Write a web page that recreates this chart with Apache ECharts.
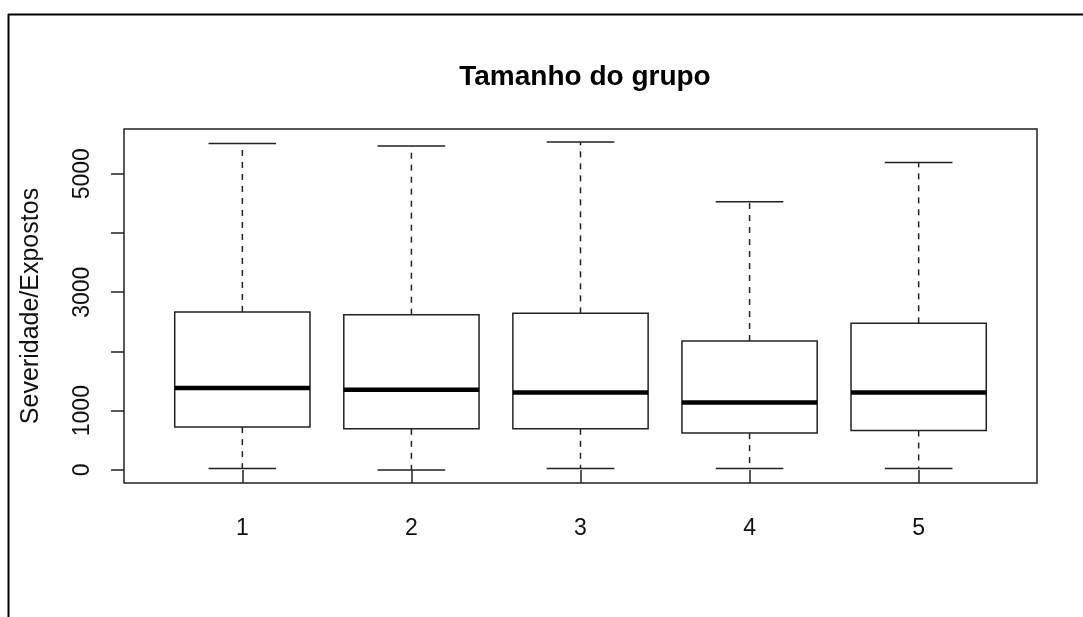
<!DOCTYPE html>
<html>
<head>
<meta charset="utf-8">
<script src="https://cdn.jsdelivr.net/npm/echarts@6/dist/echarts.min.js"></script>
<style>
  html, body { margin: 0; padding: 0; background: #fff; }
  #chart { width: 1083px; height: 617px; }
</style>
</head>
<body>
<div id="chart"></div>
<script>
// Group sizes on the x axis
const groups = [1, 2, 3, 4, 5];
// Five-number summaries per group (Severidade/Expostos)
const lowerWhisker = [22, 0, 22, 22, 22];
const lowerQuartile = [722, 693, 693, 621, 665];
const medians = [1381, 1353, 1307, 1138, 1307];
const upperQuartile = [2667, 2621, 2643, 2176, 2474];
const upperWhisker = [5512, 5467, 5534, 4527, 5191];
// Axis ticks and labels
const yTicks = [0, 1000, 2000, 3000, 4000, 5000];
const yLabels = [0, 1000, 3000, 5000];

const boxData = groups.map((g, i) => [
  g, lowerWhisker[i], lowerQuartile[i], medians[i], upperQuartile[i], upperWhisker[i]
]);

// R-style axis padding: 4% beyond the data range
const allVals = lowerWhisker.concat(upperWhisker);
const dMin = Math.min.apply(null, allVals);
const dMax = Math.max.apply(null, allVals);
const pad = (dMax - dMin) * 0.04;

const LINE = '#222';

function renderBox(params, api) {
  const x = api.value(0);
  const lo = api.coord([x, api.value(1)]);
  const q1 = api.coord([x, api.value(2)]);
  const md = api.coord([x, api.value(3)]);
  const q3 = api.coord([x, api.value(4)]);
  const hi = api.coord([x, api.value(5)]);
  const boxW = api.size([0.8, 0])[0];
  const capW = boxW / 2;
  const cx = lo[0];
  const dashed = { stroke: LINE, lineWidth: 1.5, lineDash: [6, 6] };
  const solid = { stroke: LINE, lineWidth: 1.5 };
  return {
    type: 'group',
    children: [
      { type: 'line', shape: { x1: cx, y1: q3[1], x2: cx, y2: hi[1] }, style: dashed },
      { type: 'line', shape: { x1: cx, y1: q1[1], x2: cx, y2: lo[1] }, style: dashed },
      { type: 'line', shape: { x1: cx - capW / 2, y1: hi[1], x2: cx + capW / 2, y2: hi[1] }, style: solid },
      { type: 'line', shape: { x1: cx - capW / 2, y1: lo[1], x2: cx + capW / 2, y2: lo[1] }, style: solid },
      { type: 'rect', shape: { x: cx - boxW / 2, y: q3[1], width: boxW, height: q1[1] - q3[1] },
        style: { fill: '#fff', stroke: LINE, lineWidth: 1.5 } },
      { type: 'line', shape: { x1: cx - boxW / 2, y1: md[1], x2: cx + boxW / 2, y2: md[1] },
        style: { stroke: '#000', lineWidth: 4.5 } }
    ]
  };
}

const chart = echarts.init(document.getElementById('chart'), null, { renderer: 'canvas' });
chart.setOption({
  animation: false,
  backgroundColor: '#fff',
  title: {
    text: 'Tamanho do grupo',
    left: 580,
    textAlign: 'center',
    top: 58,
    textStyle: { fontFamily: 'Liberation Sans', fontSize: 28, fontWeight: 'bold', color: '#000' }
  },
  graphic: [
    { type: 'line', shape: { x1: 8.5, y1: 14, x2: 8.5, y2: 617 }, style: { stroke: '#000', lineWidth: 2 } },
    { type: 'line', shape: { x1: 8, y1: 14.5, x2: 1083, y2: 14.5 }, style: { stroke: '#000', lineWidth: 2 } }
  ],
  grid: {
    left: 124, top: 129, width: 913, height: 354,
    show: true, borderColor: LINE, borderWidth: 1.5, backgroundColor: 'transparent'
  },
  xAxis: {
    type: 'value',
    min: groups[0] - 0.5 - 0.2,
    max: groups[groups.length - 1] + 0.5 + 0.2,
    axisLine: { show: false },
    splitLine: { show: false },
    axisTick: { show: true, length: 13, customValues: groups, lineStyle: { color: LINE, width: 1.5 } },
    axisLabel: {
      customValues: groups, margin: 34,
      fontFamily: 'Liberation Sans', fontSize: 23, color: '#111'
    }
  },
  yAxis: {
    type: 'value',
    min: dMin - pad,
    max: dMax + pad,
    name: 'Severidade/Expostos',
    nameLocation: 'middle',
    nameGap: 80,
    nameTextStyle: { fontFamily: 'Liberation Sans', fontSize: 25, color: '#111' },
    axisLine: { show: false },
    splitLine: { show: false },
    axisTick: { show: true, length: 13, customValues: yTicks, lineStyle: { color: LINE, width: 1.5 } },
    axisLabel: {
      customValues: yLabels, rotate: 90, margin: 30,
      formatter: v => String(v),
      fontFamily: 'Liberation Sans', fontSize: 23, color: '#111'
    }
  },
  series: [{
    type: 'custom',
    renderItem: renderBox,
    encode: { x: 0, y: [1, 2, 3, 4, 5] },
    data: boxData,
    clip: false
  }]
});
</script>
</body>
</html>
